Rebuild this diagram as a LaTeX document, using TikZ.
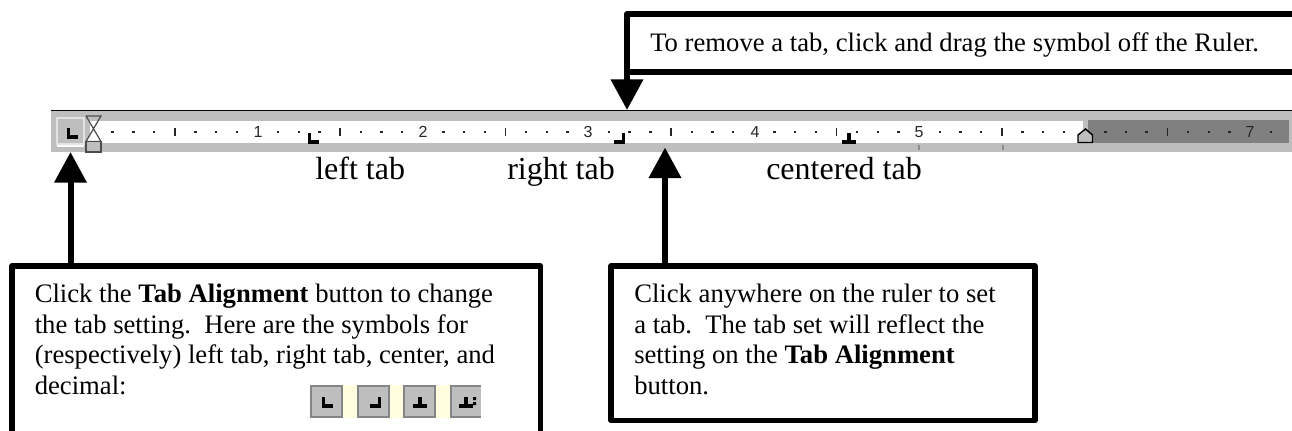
\documentclass[tikz,border=0pt]{standalone}
\usepackage{fontspec}
\setmainfont{Liberation Serif}
\newfontfamily\rulerfont{Liberation Sans}
\usetikzlibrary{arrows.meta}
\definecolor{rulergray}{HTML}{BEBEBE}
\definecolor{rulerdark}{HTML}{808080}
\definecolor{paleyellow}{HTML}{FFFFE0}
\definecolor{iconedge}{HTML}{858585}
\newcommand{\tabL}[2]{\draw[tabglyph] (#1-4.5,#2-5) -- (#1-4.5,#2+4) -- (#1+5,#2+4);}
\newcommand{\tabR}[2]{\draw[tabglyph] (#1+4.5,#2-5) -- (#1+4.5,#2+4) -- (#1-5,#2+4);}
\newcommand{\tabC}[2]{\draw[tabglyph] (#1,#2-5) -- (#1,#2+4) (#1-7,#2+4) -- (#1+7,#2+4);}
\tikzset{
  x=0.75pt,y=-0.75pt,
  callout/.style={draw=black,line width=4.1pt,line join=round,fill=white,anchor=north west,inner sep=0pt,outer sep=0pt,minimum width=#1},
  bigarrow/.style={line width=4.5pt,draw=black,-{Triangle[length=23pt,width=23.5pt]}},
  msg/.style={anchor=base west,inner sep=0pt,font=\fontsize{20}{20}\selectfont},
  label/.style={anchor=base west,inner sep=0pt,font=\fontsize{24}{24}\selectfont},
  num/.style={inner sep=0pt,font=\rulerfont\fontsize{12}{12}\selectfont,text=black!85},
  tick/.style={draw=black!85,line width=1.2pt},
  tabglyph/.style={draw=black,line width=2.4pt},
  iconbox/.style={draw=iconedge,line width=1.6pt,fill=rulergray,anchor=north west,minimum width=23pt,minimum height=23pt,inner sep=0pt,outer sep=0pt},
  yellowgap/.style={fill=paleyellow,draw=none},
}
\begin{document}
\begin{tikzpicture}
\clip (0,0) rectangle (1292,431);
\fill[white] (0,0) rectangle (1292,431);

% ruler
\fill[rulergray] (51,111) rectangle (1292,152);
\fill[white] (90,121) rectangle (1083,143);
\fill[rulerdark] (1088,120.5) rectangle (1289,143);
\draw[black,line width=1.3pt] (51,110.5) -- (1292,110.5);
\foreach \i in {1,...,57}{
  \pgfmathtruncatemacro{\m}{mod(\i,8)}
  \pgfmathsetmacro{\xx}{92+20.68*\i}
  \pgfmathtruncatemacro{\h}{mod(\i,4)}
  \ifnum\m=0
  \else
    \ifnum\h=0
      \draw[tick] (\xx,128) -- (\xx,136);
    \else
      \fill[black!85] (\xx-1.2,130.8) rectangle (\xx+1.2,133.2);
    \fi
  \fi
}
\foreach \n/\xx in {1/258,2/423,3/588,4/755,5/919,7/1250}
  \node[num] (num\n) at (\xx,132) {\n};
\draw[black!45,line width=0.8pt] (919,145) -- (919,150) (1003,145) -- (1003,150);

% tab button
\fill[rulergray] (57,118) rectangle (84,144);
\draw[white!55!rulergray,line width=1pt] (57,144) -- (57,118) -- (84,118) -- (84,144) -- cycle;
\draw[white,line width=1pt] (57,146) -- (84,146);
\tabL{73}{133}

% indent markers
\fill[white] (86,116) -- (101,116) -- (93.5,132) -- (101,141.5) -- (86,141.5) -- (93.5,132) -- cycle;
\fill[rulergray] (86,116) -- (101,116) -- (98.7,121) -- (88.3,121) -- cycle;
\draw[black!70,line width=0.9pt] (86,116) -- (101,116) -- (86,141.5) -- (101,141.5) -- (86,116);
\filldraw[fill=rulergray,draw=black!70,line width=0.9pt] (86,141.5) rectangle (101,152);
\filldraw[fill=rulergray,draw=black,line width=1.1pt] (1078,142.5) -- (1078,135) -- (1085.5,129) -- (1092.5,135) -- (1092.5,142.5) -- cycle;

% tab stops
\tabL{314}{138}
\tabR{619}{138}
\tabC{849}{138}

% labels
\node[label] (lleft) at (315,180) {left tab};
\node[label] (lright) at (507,180) {right tab};
\node[label] (lcenter) at (766,180) {centered tab};

% callouts
\node[callout=700pt,minimum height=43.5pt] (top) at (627,14) {};
\node[callout=396.4pt,minimum height=135pt] (boxL) at (12,266) {};
\node[callout=318pt,minimum height=115.9pt] (boxR) at (611,266) {};

% arrows
\coordinate (tipT) at (627,110);
\coordinate (tipL) at (70.5,152);
\coordinate (tipR) at (665,147.5);
\draw[bigarrow] (top.north west) -- (tipT);
\draw[bigarrow] (tipL |- boxL.north) -- (tipL);
\draw[bigarrow] (tipR |- boxR.north) -- (tipR);

% text
\node[msg] (t0) at (650,52) {To remove a tab, click and drag the symbol off the Ruler.};
\node[msg] (a1) at (34.5,302) {Click the \textbf{Tab Alignment} button to change};
\node[msg] (a2) at (34.5,333) {the tab setting.\ \ Here are the symbols for};
\node[msg] (a3) at (34.5,363) {(respectively) left tab, right tab, center, and};
\node[msg] (a4) at (34.5,394) {decimal:};
\node[msg] (b1) at (634,302) {Click anywhere on the ruler to set};
\node[msg] (b2) at (634,333) {a tab.\ \ The tab set will reflect the};
\node[msg] (b3) at (634,363) {setting on the \textbf{Tab Alignment}};
\node[msg] (b4) at (634,394) {button.};

% icons
\fill[yellowgap] (343,385) rectangle (357,418);
\fill[yellowgap] (390,385) rectangle (404,418);
\fill[yellowgap] (436,385) rectangle (450,418);
\node[iconbox] (i1) at (311,386) {};
\node[iconbox] (i2) at (358,386) {};
\node[iconbox] (i3) at (404,386) {};
\node[iconbox] (i4) at (451,386) {};
\fill[white] (481,384) rectangle (486,419);
\tabL{328}{402}
\tabR{375}{402}
\tabC{420}{402}
\tabC{466}{402}
\fill[black] (473,397) rectangle (476,400) (473,402) rectangle (476,405);
\end{tikzpicture}
\end{document}
